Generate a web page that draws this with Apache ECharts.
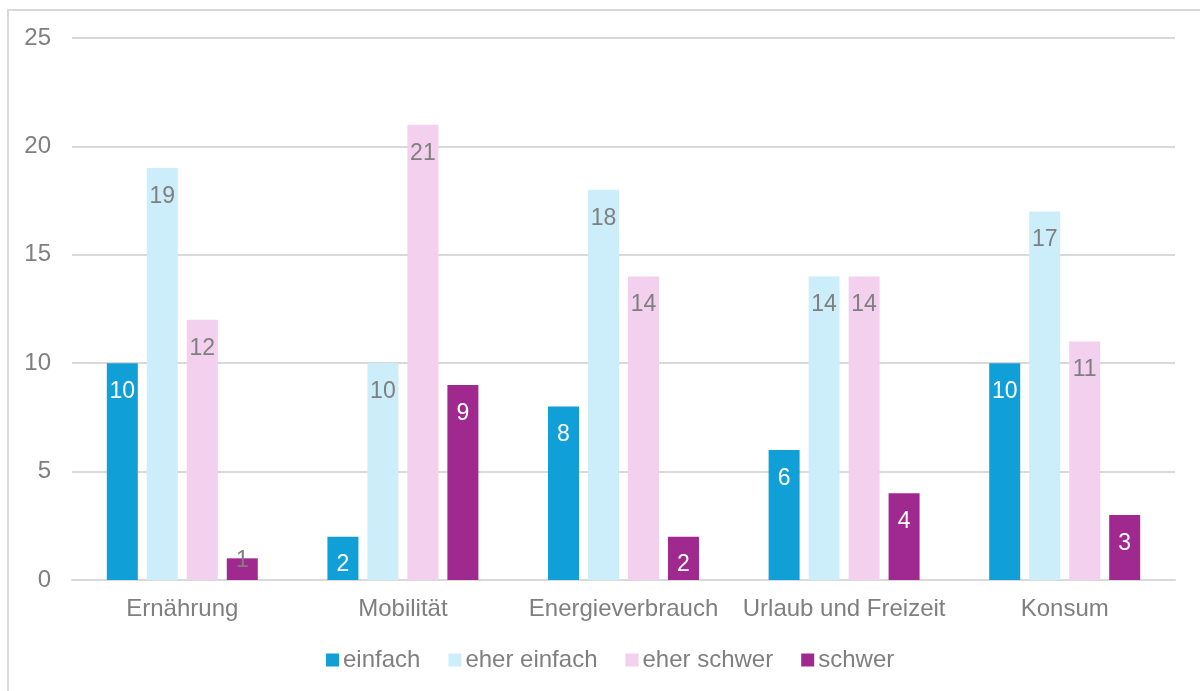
<!DOCTYPE html>
<html><head><meta charset="utf-8">
<script src="https://cdn.jsdelivr.net/npm/echarts@6/dist/echarts.min.js"></script>
<style>html,body{margin:0;padding:0;background:#fff}#c{width:1200px;height:691px}</style>
</head><body><div id="c"></div>
<script>
var categories = ['Ernährung', 'Mobilität', 'Energieverbrauch', 'Urlaub und Freizeit', 'Konsum'];
var seriesNames = ['einfach', 'eher einfach', 'eher schwer', 'schwer'];
var einfach = [10, 2, 8, 6, 10];
var eherEinfach = [19, 10, 18, 14, 17];
var eherSchwer = [12, 21, 14, 14, 11];
var schwer = [1, 9, 2, 4, 3];
var yTicks = [0, 5, 10, 15, 20, 25];

var colors = ['#119FD8', '#CCEEFB', '#F2D0EE', '#A0298F'];
var labelColors = ['#ffffff', '#7f7f7f', '#7f7f7f', '#ffffff'];
var FONT = 'Liberation Sans, Arial, sans-serif';
var allData = [einfach, eherEinfach, eherSchwer, schwer];

function mkSeries(i) {
  return {
    name: seriesNames[i],
    type: 'bar',
    barWidth: 31,
    barGap: '29%',
    itemStyle: { color: colors[i] },
    data: allData[i].map(function (v) {
      var d = { value: v };
      if (v <= 1) {
        d.label = { position: 'insideTop', distance: -9, color: '#7f7f7f' };
      }
      return d;
    }),
    label: {
      show: true, position: 'insideTop', distance: 17,
      color: labelColors[i], fontSize: 23, fontFamily: FONT
    }
  };
}

var chart = echarts.init(document.getElementById('c'), null, { renderer: 'canvas' });
chart.setOption({
  animation: false,
  backgroundColor: '#fff',
  graphic: [{
    type: 'rect', silent: true,
    shape: { x: 8, y: 10, width: 1300, height: 800 },
    style: { fill: 'none', stroke: '#d9d9d9', lineWidth: 2 }
  }],
  grid: { left: 72, right: 25, top: 38, bottom: 111, containLabel: false },
  legend: {
    data: seriesNames,
    bottom: 14,
    left: 321,
    itemWidth: 13, itemHeight: 13, itemGap: 28,
    icon: 'rect',
    textStyle: { color: '#7f7f7f', fontSize: 24, fontFamily: FONT, padding: [0, 0, 0, -1] }
  },
  xAxis: {
    type: 'category',
    data: categories,
    axisLine: { lineStyle: { color: '#d9d9d9', width: 2 } },
    axisTick: { show: false },
    axisLabel: { color: '#7f7f7f', fontSize: 24, fontFamily: FONT, margin: 17, interval: 0 }
  },
  yAxis: {
    type: 'value',
    min: yTicks[0], max: yTicks[yTicks.length - 1], interval: 5,
    axisLine: { show: false },
    axisTick: { show: false },
    splitLine: { lineStyle: { color: '#d9d9d9', width: 2 } },
    axisLabel: { color: '#7f7f7f', fontSize: 24, fontFamily: FONT, margin: 21 }
  },
  series: [0, 1, 2, 3].map(mkSeries)
});
</script></body></html>
